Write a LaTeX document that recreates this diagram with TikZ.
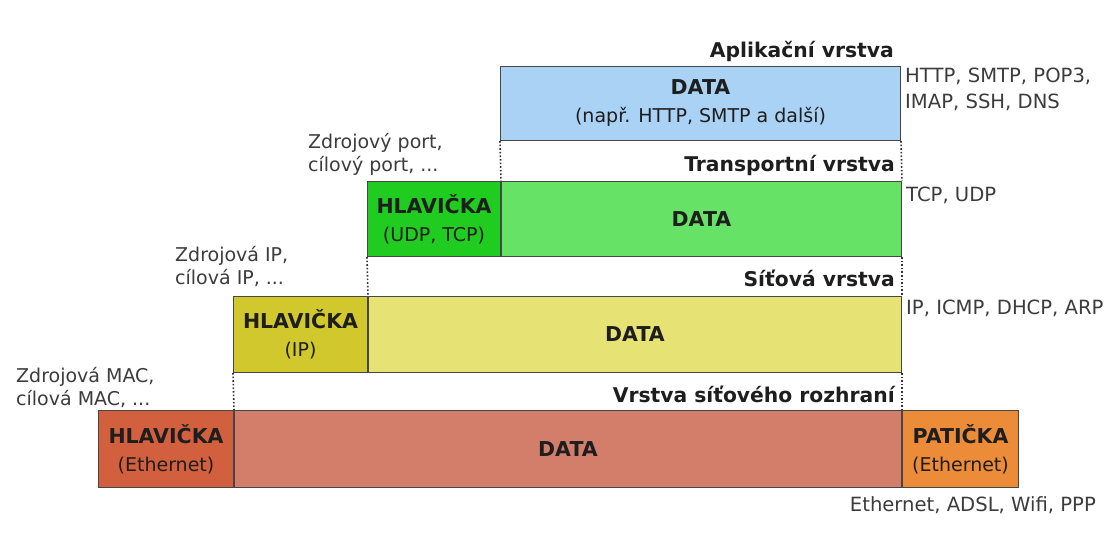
\documentclass[tikz,border=0pt]{standalone}
\usepackage{fontspec}
\setmainfont{DejaVu Sans}
\usetikzlibrary{positioning}

\definecolor{appblue}{RGB}{170,210,245}
\definecolor{thgreen}{RGB}{32,204,32}
\definecolor{tdgreen}{RGB}{102,226,102}
\definecolor{nholive}{RGB}{208,200,44}
\definecolor{ndyellow}{RGB}{230,226,116}
\definecolor{lhred}{RGB}{210,96,62}
\definecolor{ldred}{RGB}{210,126,106}
\definecolor{lforange}{RGB}{236,140,56}
\definecolor{framegray}{RGB}{70,70,70}
\definecolor{txtdark}{RGB}{30,30,30}
\definecolor{txtgray}{RGB}{60,60,60}

\newcommand{\boxhead}[1]{{\bfseries\fontsize{20.5}{28}\selectfont #1}}

\begin{document}
\begin{tikzpicture}[x=1pt,y=-1pt,
    box/.style={draw=framegray,line width=1pt,inner sep=0pt,anchor=north west,
      align=center,text=txtdark,font=\fontsize{19}{28}\selectfont},
    layer/.style={font=\bfseries\fontsize{20.3}{23}\selectfont,text=txtdark,inner sep=0pt},
    proto/.style={font=\fontsize{19.6}{26}\selectfont,align=left,text=txtgray,inner sep=0pt},
    fields/.style={font=\fontsize{19}{23}\selectfont,align=left,text=txtgray,inner sep=0pt,anchor=north west},
    dots/.style={dotted,line width=1.6pt,black!80}]
\useasboundingbox[fill=white] (0,0) rectangle (1109,533);

% aplikacni vrstva
\node[box,fill=appblue,minimum width=400pt,minimum height=74pt] (app) at (500,66)
  {\boxhead{DATA}\\(např. HTTP, SMTP a další)};

% transportni vrstva
\node[box,fill=thgreen,minimum width=133pt,minimum height=75pt] (thdr) at (367,181)
  {\boxhead{HLAVIČKA}\\(UDP, TCP)};
\node[box,fill=tdgreen,minimum width=400pt,minimum height=75pt,right=0pt of thdr] (tdata)
  {\boxhead{DATA}};

% sitova vrstva
\node[box,fill=nholive,minimum width=134pt,minimum height=76pt] (nhdr) at (233,296)
  {\boxhead{HLAVIČKA}\\(IP)};
\node[box,fill=ndyellow,minimum width=533pt,minimum height=76pt,right=0pt of nhdr] (ndata)
  {\boxhead{DATA}};

% vrstva sitoveho rozhrani
\node[box,fill=lhred,minimum width=135pt,minimum height=77pt] (lhdr) at (98,410)
  {\boxhead{HLAVIČKA}\\(Ethernet)};
\node[box,fill=ldred,minimum width=667pt,minimum height=77pt,right=0pt of lhdr] (ldata)
  {\boxhead{DATA}};
\node[box,fill=lforange,minimum width=116pt,minimum height=77pt,right=0pt of ldata] (lfoot)
  {\boxhead{PATIČKA}\\(Ethernet)};

\draw[dots] (app.south west) -- (tdata.north west);
\draw[dots] (app.south east) -- (tdata.north east);
\draw[dots] (thdr.south west) -- (ndata.north west);
\draw[dots] (tdata.south east) -- (ndata.north east);
\draw[dots] (nhdr.south west) -- (ldata.north west);
\draw[dots] (ndata.south east) -- (ldata.north east);

\node[layer,anchor=base east] (lapp) at ([xshift=-7pt,yshift=9pt]app.north east) {Aplikační vrstva};
\node[layer,anchor=base east] (ltra) at ([xshift=-7pt,yshift=10pt]tdata.north east) {Transportní vrstva};
\node[layer,anchor=base east] (lnet) at ([xshift=-7pt,yshift=10pt]ndata.north east) {Síťová vrstva};
\node[layer,anchor=base east] (llnk) at ([xshift=-7pt,yshift=8pt]ldata.north east) {Vrstva síťového rozhraní};

\node[proto,anchor=north west] (papp) at ([xshift=4pt,yshift=-2pt]app.north east)
  {HTTP, SMTP, POP3,\\IMAP, SSH, DNS};
\node[proto,anchor=north west] (ptra) at ([xshift=4pt,yshift=-6pt]tdata.north east) {TCP, UDP};
\node[proto,anchor=north west] (pnet) at ([xshift=4pt,yshift=-4pt]ndata.north east) {IP, ICMP, DHCP, ARP};
\node[proto,anchor=north east] (plnk) at ([xshift=77pt,yshift=-8pt]lfoot.south east)
  {Ethernet, ADSL, Wifi, PPP};

\node[fields] (ftra) at (308,133) {Zdrojový port,\\cílový port, ...};
\node[fields] (fnet) at (175,246) {Zdrojová IP,\\cílová IP, ...};
\node[fields] (flnk) at (16,367) {Zdrojová MAC,\\cílová MAC, ...};
\end{tikzpicture}
\end{document}
